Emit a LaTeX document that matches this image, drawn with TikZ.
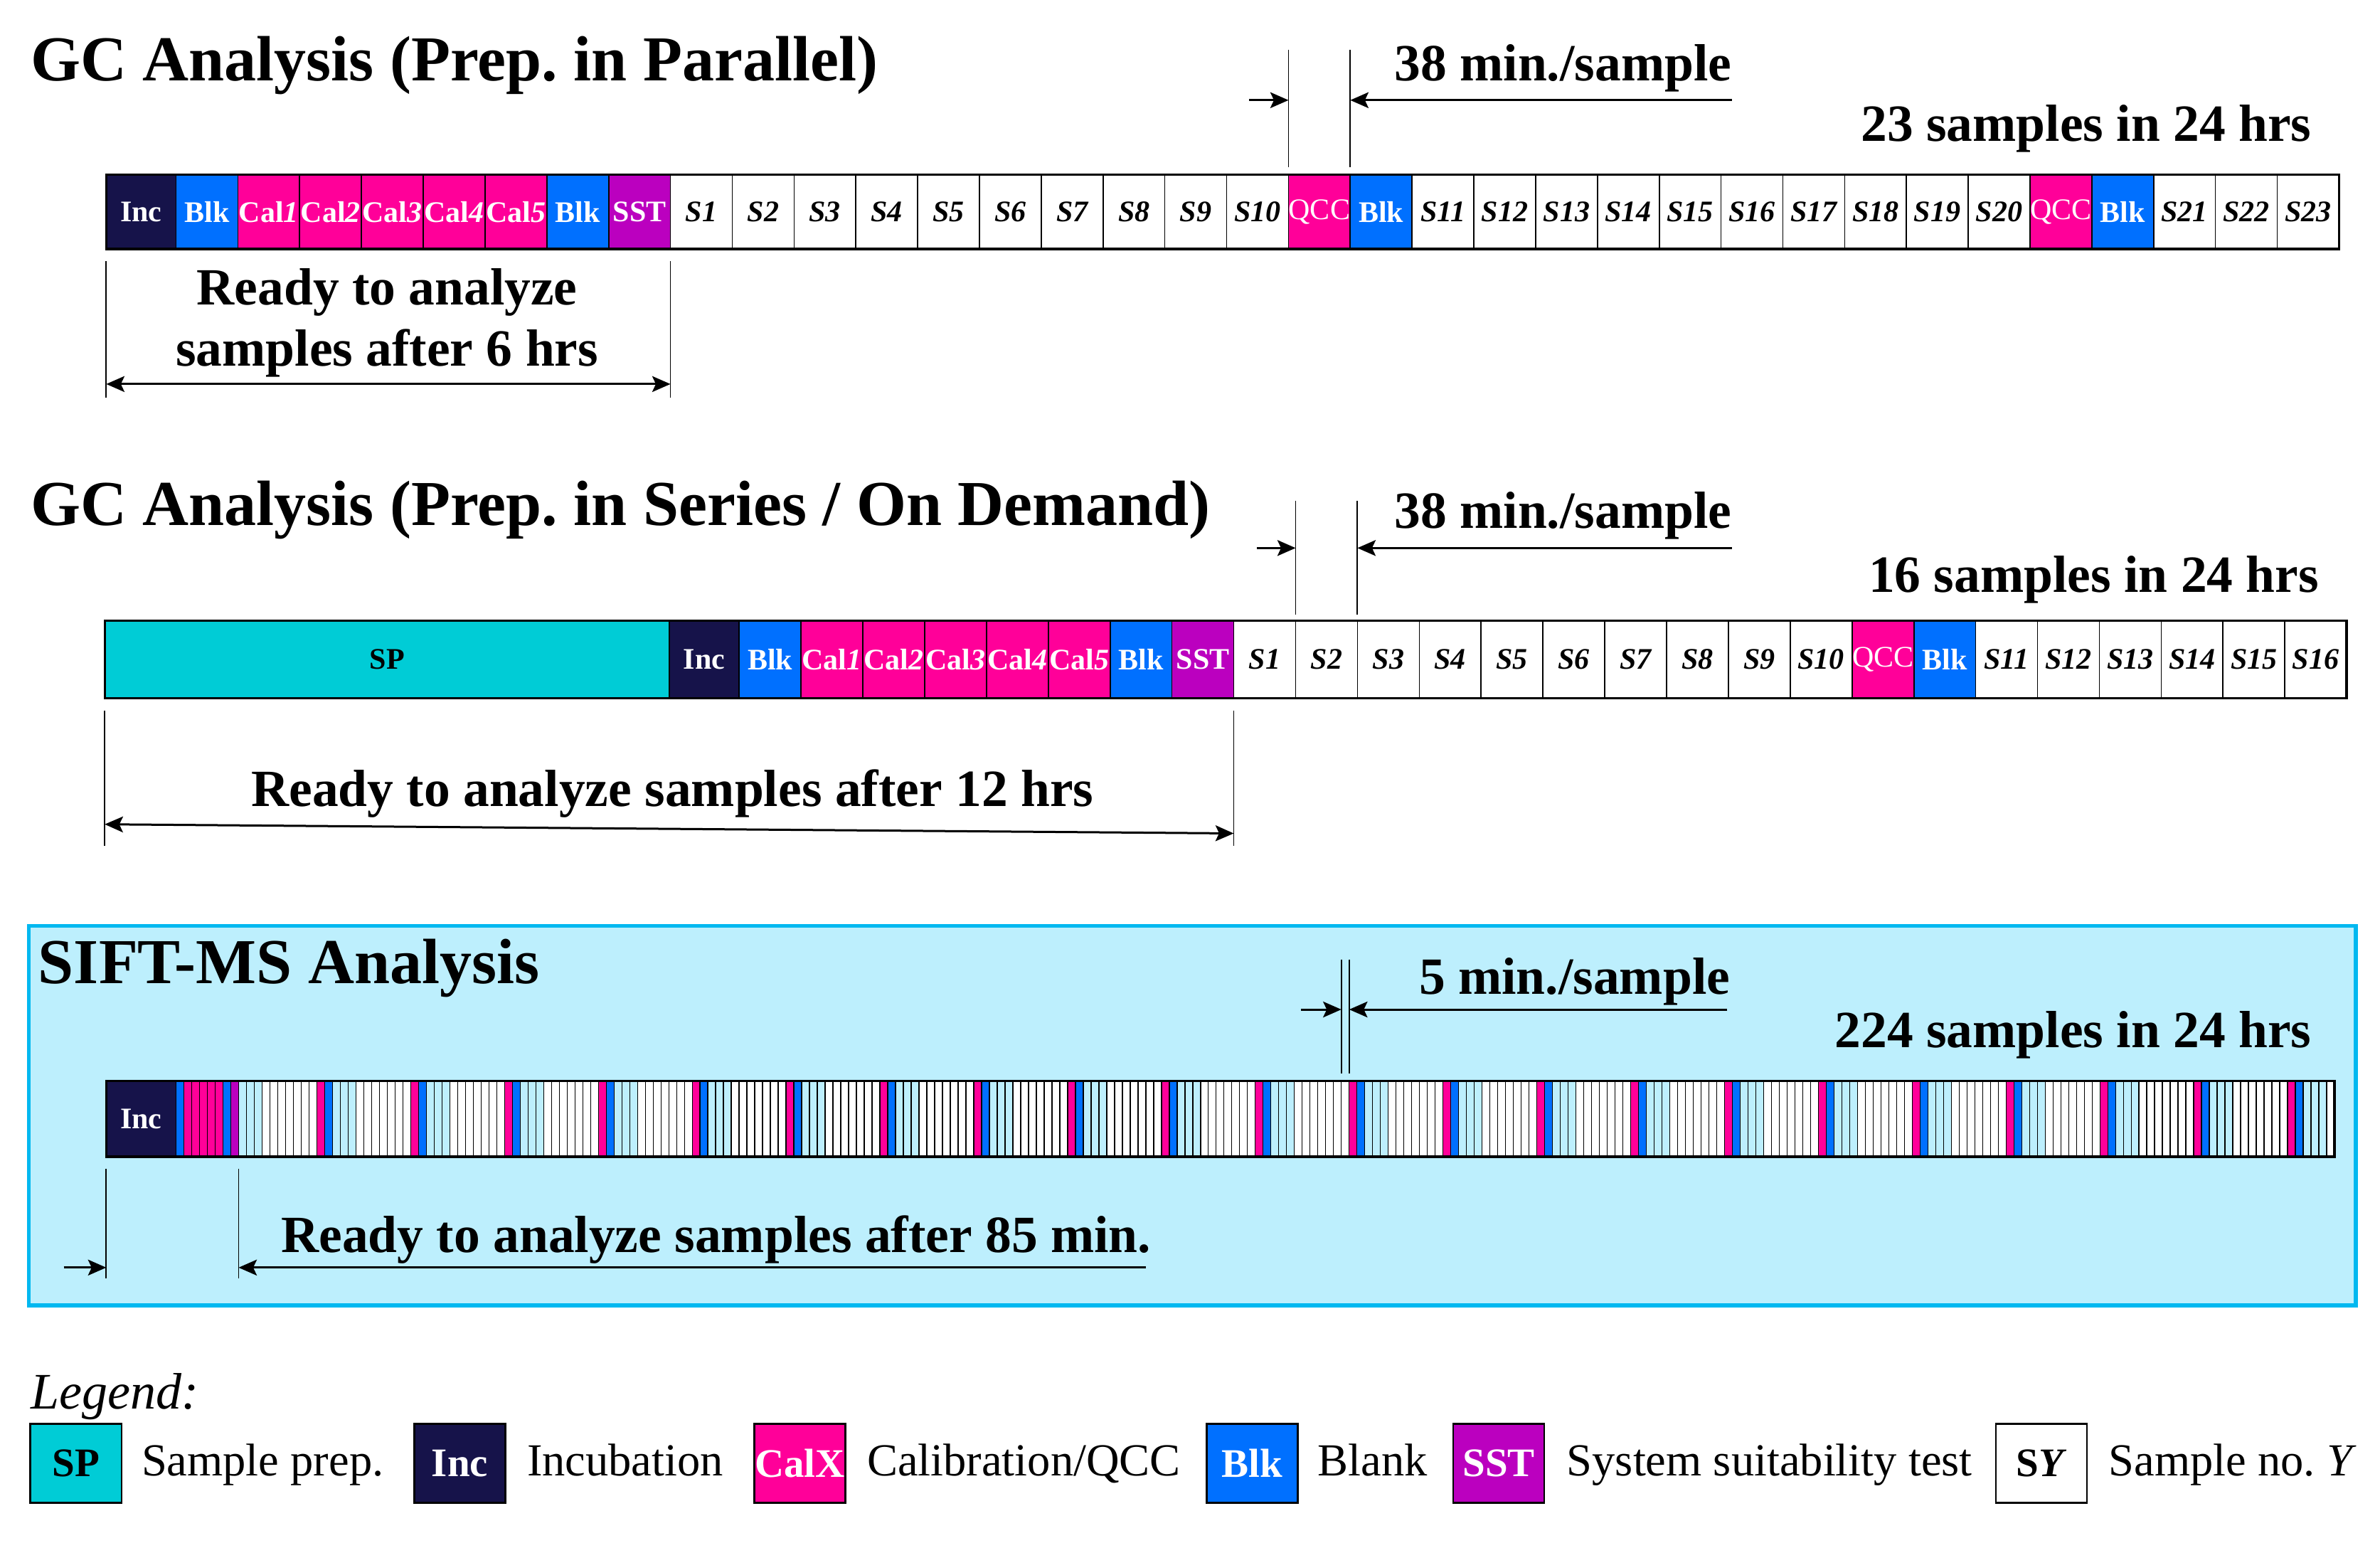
\documentclass[tikz,border=0pt]{standalone}
\usepackage{fontspec}
\setmainfont{Liberation Serif}
\usetikzlibrary{arrows.meta}
\definecolor{incC}{HTML}{16134A}
\definecolor{blkC}{HTML}{0070FF}
\definecolor{calC}{HTML}{FF0099}
\definecolor{sstC}{HTML}{BB00BF}
\definecolor{spC}{HTML}{00CCD6}
\definecolor{siftBg}{HTML}{BDEFFD}
\definecolor{siftBd}{HTML}{00B8F0}
\newcommand\myTitleF{\fontsize{30}{34}\selectfont\bfseries}
\newcommand\myNoteF{\fontsize{24.5}{28}\selectfont\bfseries}
\newcommand\myCellF{\fontsize{14}{16}\selectfont}
\newcommand\myLegF{\fontsize{21.5}{24}\selectfont}
\newcommand\myLegBoxF{\fontsize{19}{22}\selectfont}
\tikzset{
  cellbox/.style={draw=black, line width=0.55pt, inner sep=0pt, outer sep=0pt, anchor=center},
  tyb/.style={fill=blkC, text=white, font=\myCellF\bfseries},
  tyc/.style={fill=calC, text=white, font=\myCellF\bfseries},
  tyq/.style={fill=calC, text=white, font=\myCellF},
  tys/.style={fill=sstC, text=white, font=\myCellF\bfseries},
  tyw/.style={fill=white, text=black, font=\myCellF\bfseries\itshape},
  stripe/.style={draw=black, line width=0.45pt, inner sep=0pt, outer sep=0pt, minimum width=5.1522*0.25mm, minimum height=50*0.25mm},
  baroutline/.style={draw=black, line width=1.1pt},
  dimline/.style={draw=black, line width=0.6pt},
  dimarr/.style={draw=black, line width=1pt, -{Stealth[length=3mm,width=2.6mm,inset=0.6mm]}},
  dimboth/.style={draw=black, line width=1pt, {Stealth[length=3mm,width=2.6mm,inset=0.6mm]}-{Stealth[length=3mm,width=2.6mm,inset=0.6mm]}},
  legbox/.style={draw=black, line width=0.8pt, inner sep=0pt, minimum width=60*0.25mm, minimum height=52*0.25mm, font=\myLegBoxF\bfseries},
  legtext/.style={anchor=base west, font=\myLegF, inner sep=0pt},
  notetext/.style={font=\myNoteF, inner sep=0pt},
  titletext/.style={anchor=base west, font=\myTitleF, inner sep=0pt}
}
\begin{document}
\begin{tikzpicture}[x=0.25mm, y=-0.25mm]
\useasboundingbox (0,0) rectangle (1568,1016);
\fill[white] (0,0) rectangle (1568,1016);

% ================= Row 1 =================
\node[titletext] (t1) at (20,53) {GC Analysis (Prep.\ in Parallel)};
\node[cellbox, fill=incC, text=white, font=\myCellF\bfseries, minimum width=46*0.25mm, minimum height=49*0.25mm] (r1inc) at (93,139.5) {Inc};
\foreach \lab/\ty [count=\i from 0] in {Blk/b,{Cal\textit{1}}/c,{Cal\textit{2}}/c,{Cal\textit{3}}/c,{Cal\textit{4}}/c,{Cal\textit{5}}/c,Blk/b,SST/s,S1/w,S2/w,S3/w,S4/w,S5/w,S6/w,S7/w,S8/w,S9/w,S10/w,QCC/q,Blk/b,S11/w,S12/w,S13/w,S14/w,S15/w,S16/w,S17/w,S18/w,S19/w,S20/w,QCC/q,Blk/b,S21/w,S22/w,S23/w}{
  \node[cellbox, ty\ty, minimum width=40.714*0.25mm, minimum height=49*0.25mm] (r1c\i) at ({116+(\i+0.5)*40.714},139.5) {\lab};
}
\draw[baroutline] (r1inc.north west) rectangle (r1c34.south east);
% 38 min marker
\coordinate (r1mLt) at (848.9,33); \coordinate (r1mLb) at (848.9,110);
\coordinate (r1mRt) at (889.6,33); \coordinate (r1mRb) at (889.6,110);
\draw[dimline] (r1mLt) -- (r1mLb);
\draw[dimline] (r1mRt) -- (r1mRb);
\coordinate (r1aL0) at (823,66); \coordinate (r1aL1) at (848.9,66);
\coordinate (r1aR0) at (1141,66); \coordinate (r1aR1) at (889.6,66);
\draw[dimarr] (r1aL0) -- (r1aL1);
\draw[dimarr] (r1aR0) -- (r1aR1);
\node[notetext, anchor=base east] (r1min) at (1141,53) {38 min./sample};
\node[notetext, anchor=base east] (r1cnt) at (1523,93) {23 samples in 24 hrs};
% ready marker
\coordinate (r1rLt) at (70,172); \coordinate (r1rLb) at (70,262);
\coordinate (r1rRt) at (441.7,172); \coordinate (r1rRb) at (441.7,262);
\draw[dimline] (r1rLt) -- (r1rLb);
\draw[dimline] (r1rRt) -- (r1rRb);
\coordinate (r1rA0) at (70,253); \coordinate (r1rA1) at (441.7,253);
\draw[dimboth] (r1rA0) -- (r1rA1);
\node[notetext, anchor=base] (r1rdy1) at (255,201) {Ready to analyze};
\node[notetext, anchor=base] (r1rdy2) at (255,241) {samples after 6 hrs};

% ================= Row 2 =================
\node[titletext] (t2) at (20,346) {GC Analysis (Prep.\ in Series / On Demand)};
\node[cellbox, fill=spC, text=black, font=\myCellF\bfseries, minimum width=372*0.25mm, minimum height=51*0.25mm] (r2sp) at (255,434.5) {SP};
\node[cellbox, fill=incC, text=white, font=\myCellF\bfseries, minimum width=46*0.25mm, minimum height=51*0.25mm] (r2inc) at (464,434.5) {Inc};
\foreach \lab/\ty [count=\i from 0] in {Blk/b,{Cal\textit{1}}/c,{Cal\textit{2}}/c,{Cal\textit{3}}/c,{Cal\textit{4}}/c,{Cal\textit{5}}/c,Blk/b,SST/s,S1/w,S2/w,S3/w,S4/w,S5/w,S6/w,S7/w,S8/w,S9/w,S10/w,QCC/q,Blk/b,S11/w,S12/w,S13/w,S14/w,S15/w,S16/w}{
  \node[cellbox, ty\ty, minimum width=40.731*0.25mm, minimum height=51*0.25mm] (r2c\i) at ({487+(\i+0.5)*40.731},434.5) {\lab};
}
\draw[baroutline] (r2sp.north west) rectangle (r2c25.south east);
% 38 min marker
\coordinate (r2mLt) at (853.6,330); \coordinate (r2mLb) at (853.6,405);
\coordinate (r2mRt) at (894.3,330); \coordinate (r2mRb) at (894.3,405);
\draw[dimline] (r2mLt) -- (r2mLb);
\draw[dimline] (r2mRt) -- (r2mRb);
\coordinate (r2aL0) at (828,361); \coordinate (r2aL1) at (853.6,361);
\coordinate (r2aR0) at (1141,361); \coordinate (r2aR1) at (894.3,361);
\draw[dimarr] (r2aL0) -- (r2aL1);
\draw[dimarr] (r2aR0) -- (r2aR1);
\node[notetext, anchor=base east] (r2min) at (1141,348) {38 min./sample};
\node[notetext, anchor=base east] (r2cnt) at (1528,390) {16 samples in 24 hrs};
% ready marker
\coordinate (r2rLt) at (69,468); \coordinate (r2rLb) at (69,557);
\coordinate (r2rRt) at (812.8,468); \coordinate (r2rRb) at (812.8,557);
\draw[dimline] (r2rLt) -- (r2rLb);
\draw[dimline] (r2rRt) -- (r2rRb);
\coordinate (r2rA0) at (69,543); \coordinate (r2rA1) at (812.8,549);
\draw[dimboth] (r2rA0) -- (r2rA1);
\node[notetext, anchor=base] (r2rdy) at (443,531) {Ready to analyze samples after 12 hrs};

% ================= Row 3 (SIFT-MS) =================
\node[draw=siftBd, fill=siftBg, line width=1.8pt, inner sep=0pt, minimum width=1533*0.25mm, minimum height=250*0.25mm] (siftbox) at (785.5,735) {};
\node[titletext] (t3) at (25,648) {SIFT-MS Analysis};
\node[cellbox, fill=incC, text=white, font=\myCellF\bfseries, minimum width=46*0.25mm, minimum height=50*0.25mm] (r3inc) at (93,737) {Inc};
\foreach \k in {0,...,275}{
  \pgfmathtruncatemacro\myM{\k-8}
  \pgfmathtruncatemacro\myPos{mod(\myM+120,12)}
  \ifnum\k<8
    \ifcase\k \def\myCol{blkC}\or\def\myCol{calC}\or\def\myCol{calC}\or\def\myCol{calC}\or\def\myCol{calC}\or\def\myCol{calC}\or\def\myCol{blkC}\or\def\myCol{sstC}\fi
  \else
    \ifnum\myPos=10 \def\myCol{calC}\else\ifnum\myPos=11 \def\myCol{blkC}\else\ifnum\myPos<3 \def\myCol{siftBg}\else\def\myCol{white}\fi\fi\fi
  \fi
  \node[stripe, fill=\myCol] (r3c\k) at ({116+(\k+0.5)*5.1522},737) {};
}
\draw[baroutline] (r3inc.north west) rectangle (r3c275.south east);
% 5 min marker
\coordinate (r3mLt) at (883.7,632); \coordinate (r3mLb) at (883.7,707);
\coordinate (r3mRt) at (888.9,632); \coordinate (r3mRb) at (888.9,707);
\draw[dimline] (r3mLt) -- (r3mLb);
\draw[dimline] (r3mRt) -- (r3mRb);
\coordinate (r3aL0) at (857,665); \coordinate (r3aL1) at (883.7,665);
\coordinate (r3aR0) at (1138,665); \coordinate (r3aR1) at (888.9,665);
\draw[dimarr] (r3aL0) -- (r3aL1);
\draw[dimarr] (r3aR0) -- (r3aR1);
\node[notetext, anchor=base east] (r3min) at (1140,655) {5 min./sample};
\node[notetext, anchor=base east] (r3cnt) at (1523,690) {224 samples in 24 hrs};
% ready marker
\coordinate (r3rLt) at (70,770); \coordinate (r3rLb) at (70,842);
\coordinate (r3rRt) at (157.2,770); \coordinate (r3rRb) at (157.2,842);
\draw[dimline] (r3rLt) -- (r3rLb);
\draw[dimline] (r3rRt) -- (r3rRb);
\coordinate (r3aA0) at (42,835); \coordinate (r3aA1) at (70,835);
\coordinate (r3aB0) at (755,835); \coordinate (r3aB1) at (157.2,835);
\draw[dimarr] (r3aA0) -- (r3aA1);
\draw[dimarr] (r3aB0) -- (r3aB1);
\node[notetext, anchor=base west] (r3rdy) at (185,825) {Ready to analyze samples after 85 min.};

% ================= Legend =================
\node[anchor=base west, font=\fontsize{24}{28}\selectfont\itshape, inner sep=0pt] (leg) at (20,928) {Legend:};
\node[legbox, fill=spC, text=black] (lgsp) at (50,964) {SP};
\node[legtext] (lgspt) at (93,972) {Sample prep.};
\node[legbox, fill=incC, text=white] (lginc) at (303,964) {Inc};
\node[legtext] (lginct) at (347,972) {Incubation};
\node[legbox, fill=calC, text=white] (lgcal) at (527,964) {CalX};
\node[legtext] (lgcalt) at (571,972) {Calibration/QCC};
\node[legbox, fill=blkC, text=white] (lgblk) at (825,964) {Blk};
\node[legtext] (lgblkt) at (868,972) {Blank};
\node[legbox, fill=sstC, text=white] (lgsst) at (987.5,964) {SST};
\node[legtext] (lgsstt) at (1032,972) {System suitability test};
\node[legbox, fill=white, text=black] (lgsy) at (1345,964) {S\textit{Y}};
\node[legtext] (lgsyt) at (1389,972) {Sample no.\ \textit{Y}};
\end{tikzpicture}
\end{document}
